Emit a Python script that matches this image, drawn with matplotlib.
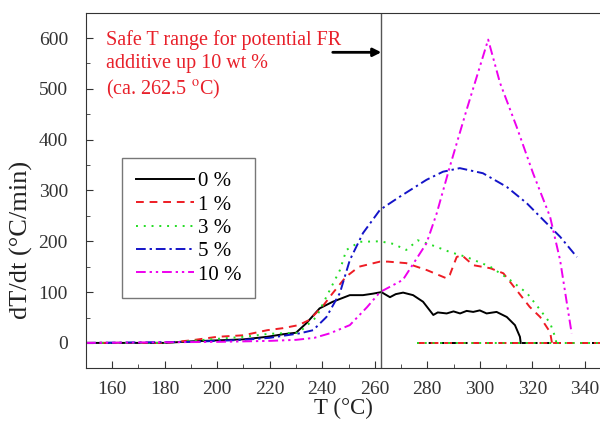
import numpy as np
import matplotlib
matplotlib.use("Agg")
import matplotlib.pyplot as plt

plt.rcParams['font.family'] = ['Liberation Serif', 'DejaVu Serif']
plt.rcParams['mathtext.fontset'] = 'stix'

# ---------- data ----------
t_0 = [150, 180, 190, 200, 210, 219, 225, 230, 234, 239, 244, 250.5, 255.5, 259.4, 262.5,
       265.8, 268, 270.8, 274.6, 278.4, 282.3, 284, 287.4, 290, 292.5, 295, 297.5, 300,
       302.6, 306.4, 310.3, 313.4, 315.3, 315.6]
v_0 = [0, 0, 3, 5, 7, 12, 17, 20, 39, 68, 81, 94, 94, 97, 100,
       90, 96, 99, 94, 81, 55, 60, 58, 62, 58, 63, 61, 64, 58, 61, 51, 35, 12, 0]

t_1 = [150, 180, 190, 200, 210, 219, 225, 231, 235, 240, 244, 249, 254, 258, 262, 265,
       272, 280, 287.4, 288.6, 291.2, 293.1, 297.5, 304, 309, 314, 319, 323, 326.8, 327.5]
v_1 = [0, 0, 5, 12, 15, 25, 29, 35, 45, 71, 98, 130, 150, 155, 160, 160,
       157, 143, 127, 134, 169, 173, 153, 147, 137, 104, 71, 51, 21, 0]

t_3 = [150, 180, 190, 200, 210, 220, 231, 237.8, 241.6, 246.7, 249.2, 254.3, 262, 267,
       272, 276.4, 282, 288.6, 295, 304, 311.5, 318, 323, 326.8, 328.7, 329.2]
v_3 = [0, 0, 4, 8, 12, 18, 20, 51, 91, 143, 183, 199, 200, 195,
       183, 202, 192, 179, 169, 150, 124, 98, 65, 39, 12, 0]

t_5 = [150, 190, 200, 210, 220, 231.6, 236.5, 241.6, 246.7, 250.5, 255.5, 262, 269.6,
       279.7, 286, 292.4, 301.2, 310.3, 317.9, 324.2, 330.6, 337]
v_5 = [0, 2, 4, 6, 10, 19, 25, 51, 98, 163, 216, 262, 288,
       321, 337, 344, 334, 307, 275, 242, 209, 169]

t_10 = [150, 200, 220, 230, 237, 243, 250.5, 257, 262, 270.7, 279.7, 283.6, 288.6, 295,
        303.2, 307.7, 314, 320.3, 326.8, 330.6, 333, 335]
v_10 = [0, 2, 4, 6, 10, 19, 35, 70, 100, 124, 196, 255, 347, 459,
        597, 512, 426, 334, 248, 163, 84, 19]

# flat zero segment recorded after burn-out (0 %, 1 %, 3 %)
t_tail = [276, 346]
v_tail = [0, 0]

labels = ["0 %", "1 %", "3 %", "5 %", "10 %"]
safe_T = 262.5

# ---------- plot ----------
fig = plt.figure(figsize=(6.0, 4.23), dpi=100)
ax = fig.add_axes([0.1433, 0.1293, 0.8567, 0.8407])

lw = 1.4
styles = [
    dict(color="black", linestyle="-"),
    dict(color="#ee1c24", linestyle=(0, (4, 3))),
    dict(color="#22dd22", linestyle=(0, (1, 3))),
    dict(color="#1414c8", linestyle=(0, (5, 2, 1.2, 2))),
    dict(color="#ee00ee", linestyle=(0, (5, 2, 1.2, 2, 1.2, 2))),
]
series = [(t_0, v_0), (t_1, v_1), (t_3, v_3), (t_5, v_5), (t_10, v_10)]
for (t, v), lab, st in zip(series, labels, styles):
    ax.plot(t, v, lw=lw, label=lab, **st)

ax.plot(t_tail, v_tail, lw=lw, color="black", linestyle=(0, (2, 4)))
for st in styles[1:3]:
    ax.plot(t_tail, v_tail, lw=lw, **st)

ax.axvline(safe_T, color="#555555", lw=1.0)
ax.annotate("", xy=(safe_T, 572), xytext=(244, 572),
            arrowprops=dict(arrowstyle="-|>", color="black", lw=2, mutation_scale=12,
                            shrinkA=0, shrinkB=0))
ax.text(157.8, 546, "Safe T range for potential FR\nadditive up 10 wt %\n(ca. 262.5 $^{\\mathrm{o}}$C)",
        color="#e8202a", fontsize=14.5, va="center", ha="left", linespacing=1.3)

ax.set_xlim(150, 345.8)
ax.set_ylim(-50, 650)
ax.set_xticks(np.arange(160, 341, 20))
ax.set_xticks(np.arange(150, 346, 10), minor=True)
ax.set_yticks(np.arange(0, 601, 100))
ax.set_yticks(np.arange(0, 651, 50), minor=True)
ax.tick_params(which="both", direction="in", labelsize=14, colors="#333333")
ax.tick_params(which="major", length=5)
ax.tick_params(axis="x", which="major", pad=9)
ax.tick_params(axis="y", which="major", pad=13)
ax.tick_params(which="minor", length=3)
for s in ["left", "bottom", "top"]:
    ax.spines[s].set_color("#333333")
ax.spines["right"].set_visible(False)

ax.set_xlabel("T (°C)", fontsize=16.5, color="#222222", labelpad=0)
ax.set_ylabel("dT/dt (°C/min)", fontsize=19, color="#222222")
ax.yaxis.set_label_coords(-0.104, 0.361)

leg = ax.legend(loc="upper left", bbox_to_anchor=(0.07, 0.591), borderaxespad=0,
                fontsize=15, handlelength=2.8, labelspacing=0.18, handletextpad=0.2,
                borderpad=0.65, fancybox=False, edgecolor="#777777", framealpha=1)
leg.get_frame().set_linewidth(1.0)

fig.savefig("out.png", dpi=100)
